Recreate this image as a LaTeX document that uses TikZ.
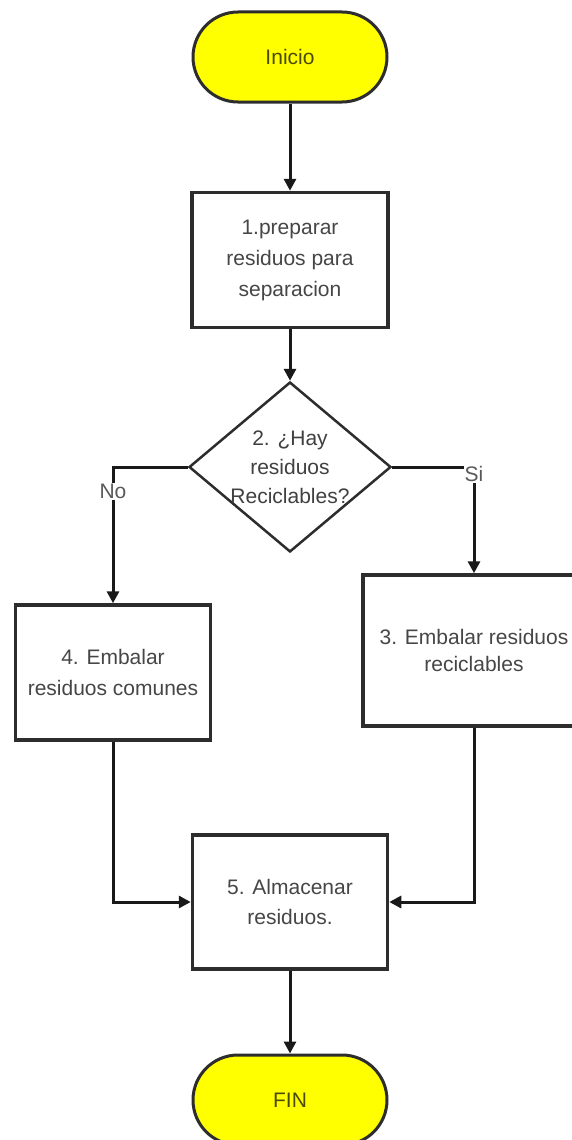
\documentclass[tikz,border=0pt]{standalone}
\usepackage{fontspec}
\setmainfont{Liberation Sans}
\usetikzlibrary{arrows.meta,shapes.geometric}
\definecolor{termyellow}{RGB}{255,255,0}
\definecolor{termtext}{RGB}{75,75,0}
\definecolor{boxtext}{RGB}{70,70,70}
\definecolor{edge}{RGB}{45,45,45}
\begin{document}
\begin{tikzpicture}[x=1pt,y=-1pt,
  every node/.style={font=\fontsize{21}{31}\selectfont, align=center},
  terminal/.style={draw=edge, line width=3pt, fill=termyellow, rectangle,
    rounded corners=45pt, minimum width=194pt, minimum height=90pt,
    text=termtext, inner sep=0pt},
  process/.style={draw=edge, line width=3.5pt, fill=white, rectangle,
    minimum width=#1, minimum height=135pt, text=boxtext, inner sep=0pt},
  process/.default=196pt,
  decision/.style={draw=edge, line width=2.5pt, fill=white, diamond,
    minimum width=202pt, minimum height=170pt, inner sep=0pt},
  flow/.style={draw=black!90, line width=3pt,
    -{Triangle[width=12pt,length=12pt]}},
  branch/.style={fill=white, text=black!65, inner sep=1pt}
]
  \clip (0,0) rectangle (572,1140);
  \useasboundingbox (0,0) rectangle (572,1140);

  % shapes of the flowchart
  \node[terminal] (ini) at (290,57) {Inicio};
  \node[process] (b1) at (290,260) {1.preparar\\residuos para\\separacion};
  \node[decision] (d) at (290,467) {};
  \node[text=black!75, font=\fontsize{21}{29}\selectfont] (dt) at (290,467)
    {2. ¿Hay\\residuos\\Reciclables?};
  \node[process=195pt] (b4) at (113,672.5) {4. Embalar\\residuos comunes};
  \node[process=222pt, minimum height=151pt,
        font=\fontsize{21}{27}\selectfont] (b3) at (474,650.5)
    {3. Embalar residuos\\reciclables};
  \node[process=195pt, minimum height=134pt,
        font=\fontsize{21}{30}\selectfont] (b5) at (290,902)
    {5. Almacenar\\residuos.};
  \node[terminal] (fin) at (290,1100) {FIN};

  % connectors
  \draw[flow] (ini.south) -- (b1.north);
  \draw[flow] (b1.south) -- (d.north);
  \draw[flow] (d.west) -| (b4.north)
    node[branch, pos=0.59] (no) {No};
  \draw[flow] (d.east) -| (b3.north)
    node[branch, pos=0.535] (si) {Si};
  \draw[flow] (b4.south) |- (b5.west);
  \draw[flow] (b3.south) |- (b5.east);
  \draw[flow] (b5.south) -- (fin.north);
\end{tikzpicture}
\end{document}
